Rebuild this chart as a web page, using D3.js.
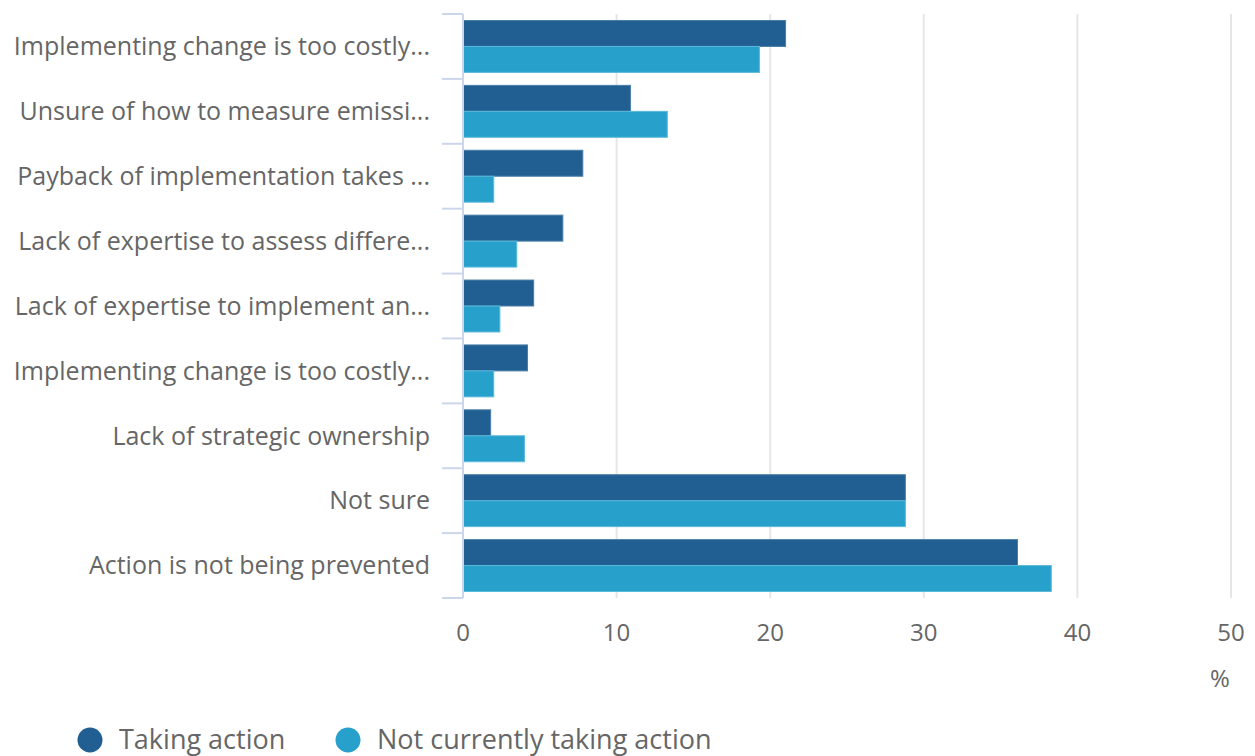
<!DOCTYPE html>
<html>
<head>
<meta charset="utf-8">
<script src="https://cdn.jsdelivr.net/npm/d3@7"></script>
<style>
  body { margin: 0; background: #fff; }
  text { font-family: "Open Sans", sans-serif; fill: #666; }
</style>
</head>
<body>
<div id="target"></div>
<script>
const categories = [
  "Implementing change is too costly...",
  "Unsure of how to measure emissi...",
  "Payback of implementation takes ...",
  "Lack of expertise to assess differe...",
  "Lack of expertise to implement an...",
  "Implementing change is too costly...",
  "Lack of strategic ownership",
  "Not sure",
  "Action is not being prevented"
];
const seriesNames = ["Taking action", "Not currently taking action"];
const takingAction = [21.0, 10.9, 7.8, 6.5, 4.6, 4.2, 1.8, 28.8, 36.1];
const notTakingAction = [19.3, 13.3, 2.0, 3.5, 2.4, 2.0, 4.0, 28.8, 38.3];
const xTicks = [0, 10, 20, 30, 40, 50];

const width = 1255, height = 756;
const margin = { top: 14, right: 24, bottom: 158, left: 463 };
const colors = ["#215f92", "#27a1cc"];
const strokes = ["#4a7ea8", "#5cb9da"];

const svg = d3.select("#target").append("svg")
  .attr("width", width)
  .attr("height", height);

const x = d3.scaleLinear()
  .domain([0, 50])
  .range([margin.left, width - margin.right]);

const y = d3.scaleBand()
  .domain(d3.range(categories.length))
  .range([margin.top, height - margin.bottom])
  .paddingInner(0.2)
  .paddingOuter(0.1);

const ySub = d3.scaleBand()
  .domain([0, 1])
  .range([0, y.bandwidth()]);

// grid lines
svg.append("g")
  .selectAll("line")
  .data(xTicks.slice(1))
  .join("line")
  .attr("x1", d => x(d)).attr("x2", d => x(d))
  .attr("y1", margin.top).attr("y2", height - margin.bottom)
  .attr("stroke", "#e6e6e6")
  .attr("stroke-width", 2);

// bars
const rows = categories.map((c, i) => [takingAction[i], notTakingAction[i]]);
const group = svg.append("g")
  .selectAll("g")
  .data(rows)
  .join("g")
  .attr("transform", (d, i) => `translate(0,${y(i)})`);

group.selectAll("rect")
  .data(d => d)
  .join("rect")
  .attr("x", x(0))
  .attr("y", (d, j) => ySub(j))
  .attr("width", d => x(d) - x(0))
  .attr("height", ySub.bandwidth())
  .attr("fill", (d, j) => colors[j])
  .attr("stroke", (d, j) => strokes[j])
  .attr("stroke-width", 1);

// y axis line + ticks at category edges
const yEdges = d3.range(categories.length + 1).map(i => margin.top + i * (height - margin.top - margin.bottom) / categories.length);
svg.append("line")
  .attr("x1", margin.left).attr("x2", margin.left)
  .attr("y1", margin.top).attr("y2", height - margin.bottom)
  .attr("stroke", "#ccd6eb").attr("stroke-width", 2);
svg.append("g")
  .selectAll("line")
  .data(yEdges)
  .join("line")
  .attr("x1", margin.left - 21).attr("x2", margin.left)
  .attr("y1", d => d).attr("y2", d => d)
  .attr("stroke", "#ccd6eb").attr("stroke-width", 2);

// category labels
svg.append("g")
  .selectAll("text")
  .data(categories)
  .join("text")
  .attr("x", 430)
  .attr("y", (d, i) => y(i) + y.bandwidth() / 2)
  .attr("dy", "0.35em")
  .attr("text-anchor", "end")
  .style("font-size", "25px")
  .text(d => d);

// x tick labels
svg.append("g")
  .selectAll("text")
  .data(xTicks)
  .join("text")
  .attr("x", d => x(d))
  .attr("y", 633)
  .attr("dy", "0.35em")
  .attr("text-anchor", "middle")
  .style("font-size", "24px")
  .text(d => d);

svg.append("text")
  .attr("x", 1220).attr("y", 679)
  .attr("dy", "0.35em")
  .attr("text-anchor", "middle")
  .style("font-size", "24px")
  .text("%");

// legend
const legendX = [90, 348];
const legend = svg.append("g")
  .selectAll("g")
  .data(seriesNames)
  .join("g")
  .attr("transform", (d, i) => `translate(${legendX[i]},740)`);
legend.append("circle")
  .attr("r", 12.5)
  .attr("fill", (d, i) => colors[i]);
legend.append("text")
  .attr("x", 29)
  .attr("dy", "0.35em")
  .style("font-size", "27px")
  .text(d => d);
</script>
</body>
</html>
